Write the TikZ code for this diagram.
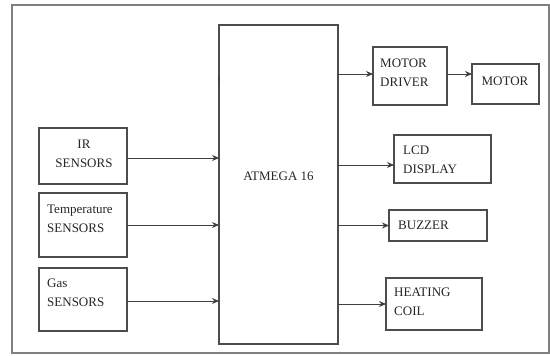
\documentclass[tikz,border=0pt]{standalone}
\usepackage{fontspec}
\setmainfont{Liberation Serif}
\usetikzlibrary{arrows.meta}
\begin{document}
\begin{tikzpicture}[x=1pt,y=-1pt,
  box/.style={draw=black!70, line width=1.1pt, rectangle, inner sep=0pt, outer sep=0pt, anchor=north west},
  lbl/.style={inner sep=0pt, anchor=west, align=left, font=\fontsize{13}{19}\selectfont, text=black!85},
  arr/.style={draw=black!75, line width=0.9pt, -{Stealth[length=7pt,width=6pt]}}]
\useasboundingbox (0,0) rectangle (550,356);
\fill[white] (0,0) rectangle (550,356);
\draw[black!50, line width=1.3pt] (12,5) rectangle (549,353);
% main controller
\node[box, minimum width=119pt, minimum height=319pt] (atm) at (219,25) {};
\node[lbl, anchor=center] (atmt) at (278.5,176) {ATMEGA 16};
\fill[black!75] (218,77) rectangle (220,81);
% inputs
\node[box, minimum width=88pt, minimum height=56pt] (ir) at (39,128) {};
\node[lbl, align=center, anchor=center] (irt) at (84,154) {IR\\SENSORS};
\node[box, minimum width=88pt, minimum height=64pt] (tmp) at (39,193) {};
\node[lbl, anchor=north west] (tmpt) at (47,205) {Temperature\\SENSORS};
\node[box, minimum width=88pt, minimum height=63pt] (gas) at (39,268) {};
\node[lbl, anchor=north west] (gast) at (47,279) {Gas\\SENSORS};
% outputs
\node[box, minimum width=74pt, minimum height=58pt] (md) at (373,47) {};
\node[lbl, anchor=north west] (mdt) at (380,59) {MOTOR\\DRIVER};
\node[box, minimum width=67pt, minimum height=40pt] (mot) at (472,64) {};
\node[lbl, anchor=center] (mott) at (505,81) {MOTOR};
\node[box, minimum width=97pt, minimum height=48pt] (lcd) at (394,135) {};
\node[lbl, anchor=north west] (lcdt) at (403,146) {LCD\\DISPLAY};
\node[box, minimum width=98pt, minimum height=31pt] (buz) at (389,210) {};
\node[lbl] (buzt) at (398,225.5) {BUZZER};
\node[box, minimum width=96pt, minimum height=52pt] (heat) at (386,278) {};
\node[lbl, anchor=north west] (heatt) at (394,288) {HEATING\\COIL};
% connectors
\draw[arr] ([yshift=-2pt]ir.east) -- ([yshift=-2pt]ir.east -| atm.west);
\draw[arr] (tmp.east) -- (tmp.east -| atm.west);
\draw[arr] ([yshift=-1.5pt]gas.east) -- ([yshift=-1.5pt]gas.east -| atm.west);
\draw[arr] ([yshift=2pt]md.west -| atm.east) -- ([yshift=2pt]md.west);
\draw[arr] ([yshift=2pt]md.east) -- ([yshift=2pt]md.east -| mot.west);
\draw[arr] ([yshift=-6pt]lcd.west -| atm.east) -- ([yshift=-6pt]lcd.west);
\draw[arr] (buz.west -| atm.east) -- (buz.west);
\draw[arr] (heat.west -| atm.east) -- (heat.west);
\end{tikzpicture}
\end{document}
